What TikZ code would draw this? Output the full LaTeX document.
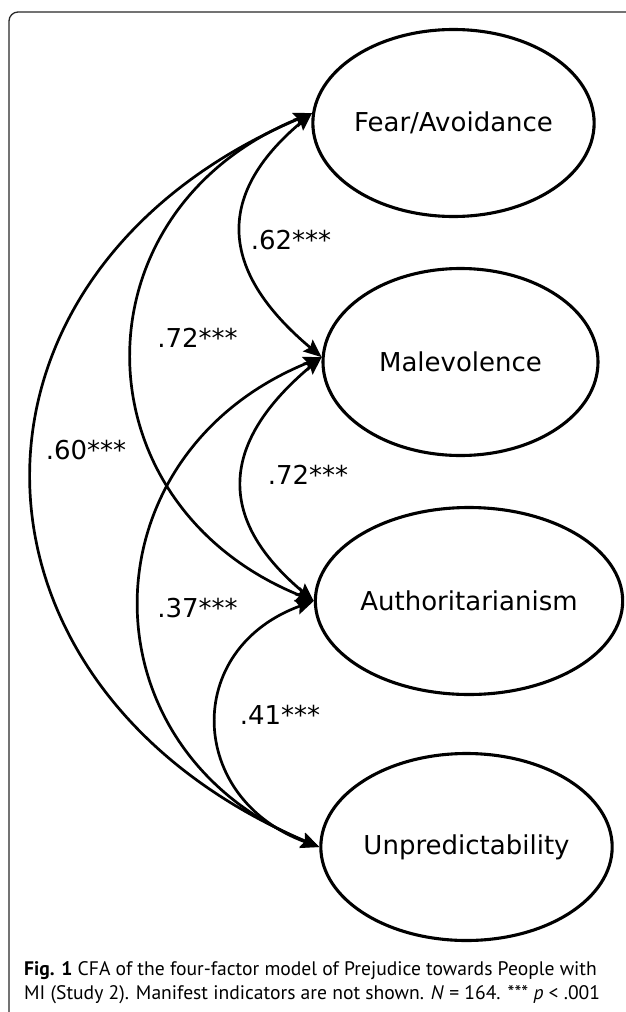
\documentclass[tikz,border=0pt]{standalone}
\usepackage{fontspec}
\usetikzlibrary{shapes.geometric,arrows.meta}
\newfontfamily\diagfont{DejaVu Sans}
\newfontfamily\capfont{PT Sans}
\definecolor{figcolor0001}{RGB}{0,0,0}
\definecolor{figcolor0002}{RGB}{40,40,40}

\begin{document}
\begin{tikzpicture}[yscale=-1
,pstyle0/.style={color=figcolor0002,line width=1.3pt,rounded corners=9pt}
,pstyle1/.style={ellipse,draw=figcolor0001,line width=3.1pt,minimum width=275pt,minimum height=187pt,inner sep=0pt,font=\diagfont\fontsize{26}{31}\selectfont}
,pstyle2/.style={color=figcolor0001,line width=2.7pt,{Stealth[length=18pt,width=15pt,inset=3pt]}-{Stealth[length=18pt,width=15pt,inset=3pt]}}
,pstyle3/.style={inner sep=0pt,font=\diagfont\fontsize{26}{31}\selectfont}
,pstyle4/.style={anchor=north west,inner sep=0pt,align=left,font=\capfont\fontsize{19.6}{24}\selectfont}
]
\useasboundingbox (0pt,0pt) rectangle (625pt,1012pt);
\draw[pstyle0] (9pt,1014pt) -- (9pt,12pt) -- (627pt,12pt);
\node (fear) at (453.5pt,123pt)[pstyle1]{Fear/Avoidance};
\node (mal) at (460.5pt,362pt)[pstyle1]{Malevolence};
\node (auth) at (469pt,601pt)[pstyle1]{Authoritarianism};
\node (unp) at (466.5pt,847pt)[pstyle1]{Unpredictability};
\draw[pstyle2] (fear.176) .. controls +(-100pt,84pt) and +(-100pt,-84pt) .. (mal.178);
\draw[pstyle2] (mal.178) .. controls +(-100pt,84pt) and +(-100pt,-84pt) .. (auth.west);
\draw[pstyle2] (auth.west) .. controls +(-132pt,48pt) and +(-132pt,-48pt) .. (unp.west);
\draw[pstyle2] (fear.176) .. controls +(-240pt,97pt) and +(-240pt,-97pt) .. (auth.west);
\draw[pstyle2] (mal.178) .. controls +(-240pt,97pt) and +(-240pt,-97pt) .. (unp.west);
\draw[pstyle2] (fear.176) .. controls +(-377pt,160pt) and +(-377pt,-160pt) .. (unp.west);
\node (c62) at (291pt,240pt)[pstyle3]{.62***};
\node (c72a) at (197.5pt,338pt)[pstyle3]{.72***};
\node (c60) at (86pt,450pt)[pstyle3]{.60***};
\node (c72b) at (308pt,475pt)[pstyle3]{.72***};
\node (c37) at (197.5pt,608pt)[pstyle3]{.37***};
\node (c41) at (280pt,715pt)[pstyle3]{.41***};
\node (caption) at (24pt,961pt)[pstyle4]{\textbf{Fig. 1} CFA of the four-factor model of Prejudice towards People with\\MI (Study 2). Manifest indicators are not shown. \textit{N} = 164. *** \textit{p} < .001};
\end{tikzpicture}
\end{document}
